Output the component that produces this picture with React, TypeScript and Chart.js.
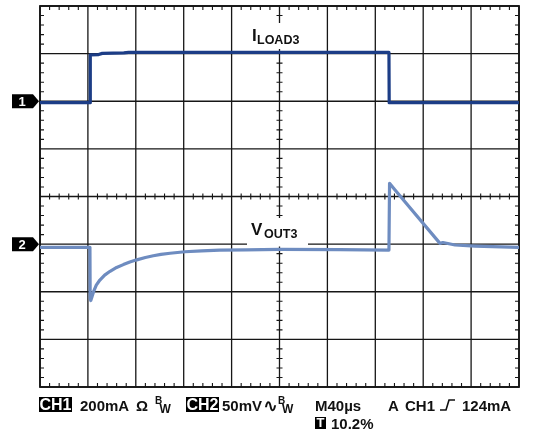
import React, { useEffect, useRef } from "react";
import { Chart, registerables } from "chart.js";

Chart.register(...registerables);

// Scope settings
const TIME_US_PER_DIV = 40;
const CH1_MA_PER_DIV = 200;
const CH2_MV_PER_DIV = 50;
const H_DIVS = 10;
const V_DIVS = 8;
const CH1_REF_DIV = 2; // channel 1 ground marker, divisions above centre
const CH2_REF_DIV = -1; // channel 2 ground marker, divisions above centre

// CH1: load current (mA relative to marker 1)
const ch1Time = [0, 41.8, 42.0, 49, 52, 70, 74, 291.4, 291.6, 400];
const ch1Current = [-6, -6, 195, 196, 201, 203, 205, 205, -6, -6];

// CH2: output voltage (mV relative to marker 2, AC coupled)
const ch2Time = [
  0, 41.7, 41.9, 42.4, 43.5, 45, 47, 50, 54, 58.5, 64, 69.6, 75, 80.8, 88, 94.6,
  101, 108.6, 121, 135, 150, 172, 200, 250, 291.4, 291.9, 296.5, 334, 336.5, 346.6,
  363.3, 400,
];
const ch2Voltage = [
  -3.4, -3.4, -57, -59.2, -55, -49, -43, -37.7, -32.5, -28.5, -24.5, -21.5, -18.8,
  -16.5, -14, -12.2, -10.8, -9.6, -8.0, -7.0, -6.4, -6.0, -5.5, -5.8, -6.2, 63.8,
  56.8, 0.8, 1.7, -0.9, -2.0, -3.4,
];

// Text
const traceLabel1 = ["I", "LOAD3"];
const traceLabel2 = ["V", "OUT3"];
const ch1Setting = ["CH1", "200mA", "Ω", "B", "W"];
const ch2Setting = ["CH2", "50mV", "∿", "B", "W"];
const timebase = "M40µs";
const triggerInfo = ["A", "CH1", "124mA"];
const triggerPos = ["T", "10.2%"];

const FONT = "'Liberation Sans', Arial, Helvetica, sans-serif";

function invBox(ctx: CanvasRenderingContext2D, text: string, x0: number, x1: number, y0: number, y1: number, size: number) {
  ctx.fillStyle = "#000";
  ctx.fillRect(x0, y0, x1 - x0, y1 - y0);
  ctx.fillStyle = "#fff";
  ctx.font = `bold ${size}px ${FONT}`;
  ctx.textAlign = "center";
  ctx.textBaseline = "alphabetic";
  ctx.fillText(text, (x0 + x1) / 2, y1 - 2);
  ctx.textAlign = "left";
}

function txt(ctx: CanvasRenderingContext2D, text: string, x: number, y: number, size: number, font = FONT) {
  ctx.fillStyle = "#111";
  ctx.font = `bold ${size}px ${font}`;
  ctx.textAlign = "left";
  ctx.textBaseline = "alphabetic";
  ctx.fillText(text, x, y);
}

const scopePlugin = {
  id: "scope",
  beforeDraw(chart: any) {
    const { ctx, width, height } = chart;
    ctx.save();
    ctx.fillStyle = "#fff";
    ctx.fillRect(0, 0, width, height);
    ctx.restore();
  },
  beforeDatasetsDraw(chart: any) {
    const ctx: CanvasRenderingContext2D = chart.ctx;
    const xs = chart.scales.x;
    const ys = chart.scales.y;
    const { left, right, top, bottom } = chart.chartArea;
    ctx.save();
    ctx.strokeStyle = "#161616";
    ctx.lineWidth = 1.3;
    ctx.beginPath();
    for (let i = 0; i <= H_DIVS; i++) {
      const x = xs.getPixelForValue(i * TIME_US_PER_DIV);
      ctx.moveTo(x, top);
      ctx.lineTo(x, bottom);
    }
    for (let j = 0; j <= V_DIVS; j++) {
      const y = ys.getPixelForValue(ys.min + j * CH1_MA_PER_DIV);
      ctx.moveTo(left, y);
      ctx.lineTo(right, y);
    }
    ctx.stroke();
    ctx.lineWidth = 1.8;
    ctx.strokeRect(left, top, right - left, bottom - top);

    const cx = xs.getPixelForValue((H_DIVS / 2) * TIME_US_PER_DIV);
    const cy = ys.getPixelForValue((ys.min + ys.max) / 2);
    ctx.lineWidth = 1.1;
    ctx.beginPath();
    for (let k = 0; k <= H_DIVS * 5; k++) {
      if (k % 5 === 0) continue;
      const x = xs.getPixelForValue((k * TIME_US_PER_DIV) / 5);
      ctx.moveTo(x, top);
      ctx.lineTo(x, top + 4);
      ctx.moveTo(x, bottom - 4);
      ctx.lineTo(x, bottom);
      ctx.moveTo(x, cy - 3);
      ctx.lineTo(x, cy + 3);
    }
    for (let k = 0; k <= V_DIVS * 5; k++) {
      if (k % 5 === 0) continue;
      const y = ys.getPixelForValue(ys.min + (k * CH1_MA_PER_DIV) / 5);
      ctx.moveTo(left, y);
      ctx.lineTo(left + 4, y);
      ctx.moveTo(right - 4, y);
      ctx.lineTo(right, y);
      ctx.moveTo(cx - 3, y);
      ctx.lineTo(cx + 3, y);
    }
    ctx.stroke();

    // trace labels with white backing
    ctx.fillStyle = "#fff";
    ctx.fillRect(247, 23, 60, 26);
    ctx.fillRect(247, 218, 61, 28.5);
    txt(ctx, traceLabel1[0], 252, 40.5, 17);
    txt(ctx, traceLabel1[1], 257, 43.5, 12.5);
    txt(ctx, traceLabel2[0], 251, 235, 17);
    txt(ctx, traceLabel2[1], 264, 237.5, 12.5);
    ctx.restore();
  },
  afterDraw(chart: any) {
    const ctx: CanvasRenderingContext2D = chart.ctx;
    ctx.save();
    // channel markers
    const markers: [string, number][] = [
      ["1", chart.scales.y.getPixelForValue(0)],
      ["2", chart.scales.y2.getPixelForValue(0)],
    ];
    for (const [label, c] of markers) {
      ctx.fillStyle = "#000";
      ctx.beginPath();
      ctx.moveTo(12, c - 7);
      ctx.lineTo(33, c - 7);
      ctx.lineTo(39, c);
      ctx.lineTo(33, c + 7);
      ctx.lineTo(12, c + 7);
      ctx.closePath();
      ctx.fill();
      ctx.fillStyle = "#fff";
      ctx.font = `bold 13px ${FONT}`;
      ctx.textAlign = "center";
      ctx.fillText(label, 22, c + 5);
    }
    ctx.textAlign = "left";

    const b = 410.5;
    const fs = 15;
    invBox(ctx, ch1Setting[0], 39, 72, 397, 412, 16);
    txt(ctx, ch1Setting[1], 80, b, fs);
    txt(ctx, ch1Setting[2], 136, b, fs);
    txt(ctx, ch1Setting[3], 155, 404, 10);
    txt(ctx, ch1Setting[4], 159.5, 412.5, 12);
    invBox(ctx, ch2Setting[0], 186, 219, 397, 412, 16);
    txt(ctx, ch2Setting[1], 222, b, fs);
    txt(ctx, ch2Setting[2], 263, b + 1, 18, "'DejaVu Sans', sans-serif");
    txt(ctx, ch2Setting[3], 278, 404, 10);
    txt(ctx, ch2Setting[4], 282, 412.5, 12);
    txt(ctx, timebase, 315, b, fs);
    txt(ctx, triggerInfo[0], 388, b, fs);
    txt(ctx, triggerInfo[1], 405, b, fs);
    ctx.strokeStyle = "#111";
    ctx.lineWidth = 1.6;
    ctx.beginPath();
    ctx.moveTo(440, b - 0.5);
    ctx.lineTo(446, b - 0.5);
    ctx.lineTo(449, b - 10.5);
    ctx.lineTo(455, b - 10.5);
    ctx.stroke();
    txt(ctx, triggerInfo[2], 462, b, fs);
    invBox(ctx, triggerPos[0], 315, 326, 417, 429, 13);
    txt(ctx, triggerPos[1], 331, 428.5, fs);
    ctx.restore();
  },
};

export default function App() {
  const ref = useRef<HTMLCanvasElement | null>(null);
  useEffect(() => {
    if (!ref.current) return;
    const chart = new Chart(ref.current, {
      type: "line",
      data: {
        datasets: [
          {
            label: "VOUT3",
            data: ch2Time.map((t, i) => ({ x: t, y: ch2Voltage[i] })),
            yAxisID: "y2",
            borderColor: "#6e8cc0",
            borderWidth: 3.2,
            borderJoinStyle: "round",
            pointRadius: 0,
            tension: 0,
            fill: false,
          },
          {
            label: "ILOAD3",
            data: ch1Time.map((t, i) => ({ x: t, y: ch1Current[i] })),
            yAxisID: "y",
            borderColor: "#1c3d86",
            borderWidth: 3.2,
            borderJoinStyle: "round",
            pointRadius: 0,
            tension: 0,
            fill: false,
          },
        ],
      },
      options: {
        responsive: false,
        animation: false,
        events: [],
        layout: { padding: { left: 40, top: 6, right: 22, bottom: 51 } },
        plugins: { legend: { display: false }, tooltip: { enabled: false } },
        scales: {
          x: { type: "linear", min: 0, max: H_DIVS * TIME_US_PER_DIV, display: false },
          y: {
            min: (-V_DIVS / 2 - CH1_REF_DIV) * CH1_MA_PER_DIV,
            max: (V_DIVS / 2 - CH1_REF_DIV) * CH1_MA_PER_DIV,
            display: false,
          },
          y2: {
            min: (-V_DIVS / 2 - CH2_REF_DIV) * CH2_MV_PER_DIV,
            max: (V_DIVS / 2 - CH2_REF_DIV) * CH2_MV_PER_DIV,
            display: false,
          },
        },
      },
      plugins: [scopePlugin],
    });
    return () => chart.destroy();
  }, []);
  return (
    <div style={{ position: "fixed", left: 0, top: 0, width: 541, height: 438, background: "#fff" }}>
      <canvas ref={ref} width={541} height={438} />
    </div>
  );
}
